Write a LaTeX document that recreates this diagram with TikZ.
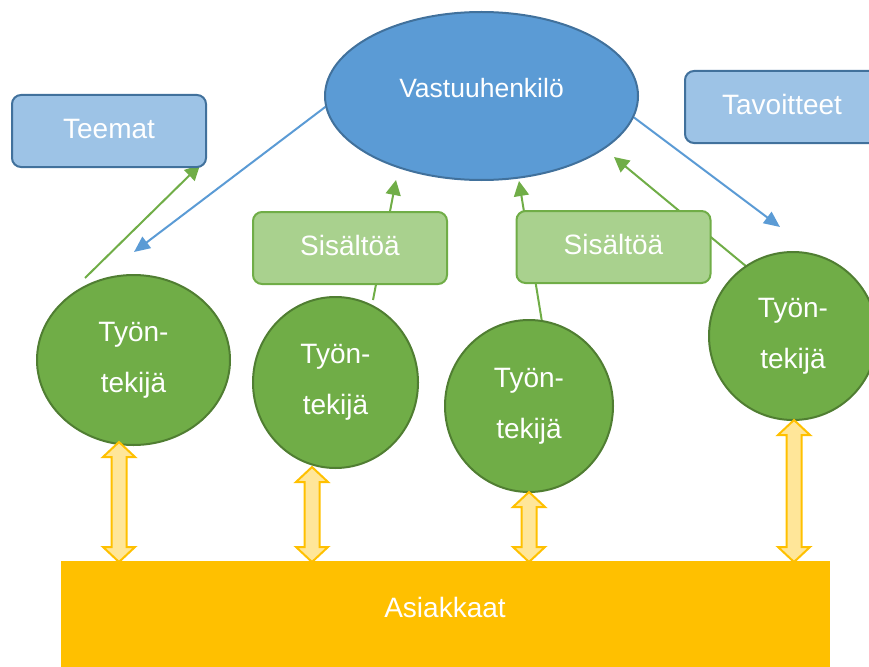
\documentclass[tikz,border=0pt]{standalone}
\usepackage{fontspec}
\setmainfont{Liberation Sans}
\usetikzlibrary{shapes.geometric,arrows.meta,backgrounds}
\definecolor{bdark}{HTML}{41719C}
\definecolor{bmid}{HTML}{5B9BD5}
\definecolor{blight}{HTML}{9DC3E6}
\definecolor{gmid}{HTML}{70AD47}
\definecolor{gdark}{HTML}{507E32}
\definecolor{glight}{HTML}{A9D18E}
\definecolor{ymid}{HTML}{FFC000}
\definecolor{ylight}{HTML}{FFE699}
\newcommand\yarr[3]{\draw[yarrow] ({#1-7.5},{#2+15}) -- ({#1-16},{#2+15}) -- (#1,#2) -- ({#1+16},{#2+15}) -- ({#1+7.5},{#2+15}) -- ({#1+7.5},{#3-15}) -- ({#1+16},{#3-15}) -- (#1,#3) -- ({#1-16},{#3-15}) -- ({#1-7.5},{#3-15}) -- cycle;}
\begin{document}
\begin{tikzpicture}[x=1pt,y=-1pt,
  txt/.style={text=white,font=\fontsize{28}{32}\selectfont,inner sep=0pt},
  vell/.style={ellipse,draw=bdark,fill=bmid,line width=2pt,minimum width=313pt,minimum height=168pt,inner sep=0pt},
  bbox/.style={rectangle,rounded corners=9pt,draw=bdark,fill=blight,line width=2pt,minimum width=194pt,minimum height=72pt,txt,text height=20pt,text depth=6pt},
  gbox/.style={rectangle,rounded corners=9pt,draw=gmid,fill=glight,line width=2pt,minimum width=194pt,minimum height=72pt,txt,text height=21pt,text depth=7pt},
  worker/.style={ellipse,draw=gdark,fill=gmid,line width=2pt,inner sep=0pt,align=center,text=white,font=\fontsize{28}{51}\selectfont},
  gline/.style={draw=gmid,line width=2pt,-{Triangle[length=15pt,width=15pt]}},
  bline/.style={draw=bmid,line width=2pt,-{Triangle[length=16pt,width=14pt]}},
  yarrow/.style={draw=ymid,fill=ylight,line width=2pt,line join=miter}
]
\useasboundingbox (0,0) rectangle (869,666);
\clip (0,0) rectangle (869,666);
% main nodes
\node[vell] (V) at (481.5,96) {};
\node[txt,font=\fontsize{26.5}{30}\selectfont] (Vt) at (481.5,88) {Vastuuhenkilö};
\node[bbox] (Te) at (109,131) {Teemat};
\node[bbox] (Ta) at (782,107) {Tavoitteet};
\node[gbox] (S1) at (350,248) {Sisältöä};
\node[gbox] (S2) at (613.5,247) {Sisältöä};
\node[worker,minimum width=193pt,minimum height=170pt] (W1) at (133.5,360) {Työn-\\tekijä};
\node[worker,minimum width=165pt,minimum height=171pt] (W2) at (335.5,382.5) {Työn-\\tekijä};
\node[worker,minimum width=168pt,minimum height=172pt] (W3) at (529,406) {Työn-\\tekijä};
\node[worker,minimum width=168pt,minimum height=168pt] (W4) at (793,336) {Työn-\\tekijä};
\node[rectangle,fill=ymid,minimum width=769pt,minimum height=130pt,inner sep=0pt] (A) at (445.5,626) {};
\node[txt] (At) at (445,607) {Asiakkaat};
% free ends of connectors
\coordinate (e1) at (200,165);
\coordinate (s1) at (85,278);
\coordinate (e2) at (134,252);
\coordinate (s3) at (373,300);
\coordinate (e3) at (396,180);
\coordinate (s4) at (542,322);
\coordinate (e4) at (519,181);
\coordinate (s5) at (747,267);
\coordinate (e5) at (614,157);
\coordinate (e6) at (780,227);
\begin{pgfonlayer}{background}
\draw[gline] (s1) -- (e1);
\draw[bline] (V.184.8) -- (e2);
\draw[gline] (s3) -- (e3);
\draw[gline] (s4) -- (e4);
\draw[gline] (s5) -- (e5);
\draw[bline] (V.-8) -- (e6);
\end{pgfonlayer}
% yellow double arrows between workers and customers
\yarr{119}{442}{562}
\yarr{312}{467}{562}
\yarr{529}{492}{562}
\yarr{794}{420}{562}
\end{tikzpicture}
\end{document}
